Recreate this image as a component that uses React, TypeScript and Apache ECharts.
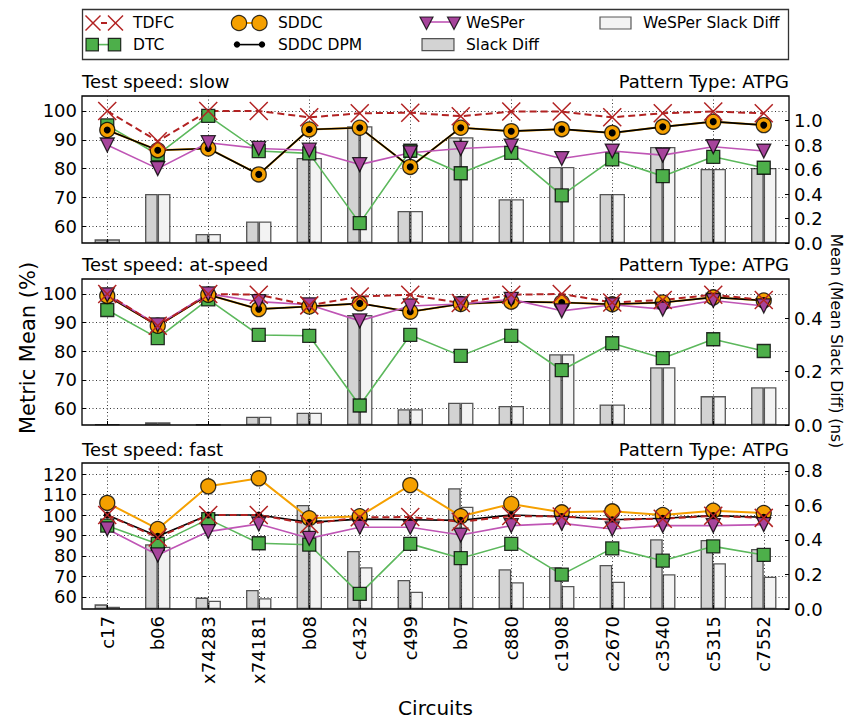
import React, { useEffect, useRef } from 'react';
import * as echarts from 'echarts';

const FONT = 'DejaVu Sans';

const categories = ['c17', 'b06', 'x74283', 'x74181', 'b08', 'c432', 'c499', 'b07', 'c880', 'c1908', 'c2670', 'c3540', 'c5315', 'c7552'];

// Test speed: slow
const tdfcSlow = [100, 89.5, 100, 100, 97.8, 99.2, 99.4, 98.2, 99.8, 99.8, 97.8, 99.2, 99.8, 99.2];
const dtcSlow = [95.0, 84.9, 98.3, 86.1, 85.3, 61.1, 86.2, 78.4, 85.5, 70.7, 83.2, 77.4, 84.1, 80.3];
const sddcSlow = [93.4, 86.4, 87.0, 78.0, 93.6, 94.2, 80.6, 94.2, 93.0, 93.7, 92.4, 94.5, 96.3, 95.1];
const sddcDpmSlow = [93.4, 86.4, 87.0, 78.0, 93.6, 94.2, 80.6, 94.2, 93.0, 93.7, 92.4, 94.5, 96.3, 95.1];
const wesperSlow = [88.2, 80.0, 89.0, 87.0, 86.4, 81.4, 85.5, 87.0, 87.8, 83.5, 86.1, 84.7, 87.6, 86.1];
const slackSlow = [0.03, 0.40, 0.074, 0.175, 0.694, 0.953, 0.262, 0.863, 0.358, 0.62, 0.40, 0.784, 0.604, 0.612];
const wesperSlackSlow = [0.03, 0.40, 0.074, 0.175, 0.694, 0.953, 0.262, 0.863, 0.358, 0.62, 0.40, 0.784, 0.604, 0.612];

// Test speed: at-speed
const tdfcAt = [100, 88.9, 100, 99.7, 96.0, 99.1, 99.7, 96.8, 99.7, 100, 97.0, 97.9, 99.7, 97.9];
const dtcAt = [94.4, 84.6, 98.1, 85.7, 85.4, 61.1, 85.7, 78.4, 85.4, 73.4, 82.8, 77.6, 84.2, 80.1];
const sddcAt = [99.3, 88.9, 99.7, 94.7, 95.6, 96.7, 93.8, 96.5, 97.3, 97.0, 96.4, 97.0, 98.8, 97.7];
const sddcDpmAt = [99.3, 88.9, 99.7, 94.7, 95.6, 96.7, 93.8, 96.5, 97.3, 97.0, 96.4, 97.0, 98.8, 97.7];
const wesperAt = [99.7, 89.2, 100, 97.3, 96.2, 90.6, 95.8, 96.5, 98.1, 94.1, 96.2, 94.7, 97.7, 95.8];
const slackAt = [0.003, 0.01, 0.002, 0.031, 0.046, 0.411, 0.059, 0.083, 0.071, 0.265, 0.077, 0.216, 0.108, 0.141];
const wesperSlackAt = [0.003, 0.01, 0.002, 0.031, 0.046, 0.411, 0.059, 0.083, 0.071, 0.265, 0.077, 0.216, 0.108, 0.141];

// Test speed: fast
const tdfcFast = [100, 89, 100, 100, 95.6, 98.9, 99, 96.7, 99.5, 99.3, 97.7, 98.2, 99.6, 98.6];
const dtcFast = [94.8, 85.9, 98.0, 86.2, 85.5, 61.5, 85.9, 78.9, 85.9, 70.9, 83.7, 77.7, 84.7, 80.5];
const sddcFast = [105.9, 93.2, 114.0, 117.9, 98.4, 99.4, 114.6, 99.4, 105.4, 101.3, 101.8, 100, 102.1, 101];
const sddcDpmFast = [100, 89.6, 100, 100, 96.4, 98, 97.7, 97.4, 100, 99.3, 97.7, 98.4, 99.7, 98.9];
const wesperFast = [93.2, 80.5, 91.9, 95.6, 88.6, 94.0, 94.0, 90.2, 94.8, 95.9, 93.2, 94.8, 94.8, 95.3];
const slackFast = [0.027, 0.375, 0.066, 0.11, 0.603, 0.336, 0.168, 0.70, 0.23, 0.242, 0.255, 0.404, 0.40, 0.348];
const wesperSlackFast = [0.013, 0.361, 0.048, 0.062, 0.516, 0.242, 0.10, 0.593, 0.155, 0.133, 0.158, 0.201, 0.265, 0.187];

const leftTicksA = [60, 70, 80, 90, 100];
const leftTicksB = [60, 70, 80, 90, 100, 110, 120];
const rightTicksA = [0, 0.2, 0.4, 0.6, 0.8, 1.0];
const rightTicksB = [0, 0.2, 0.4];
const rightTicksC = [0, 0.2, 0.4, 0.6, 0.8];

const panels = [
  { title: 'Test speed: slow', top: 96, height: 147, titleTop: 72, lMin: 54.2, lMax: 105.2, lSplit: 5, lTicks: leftTicksA, rMax: 1.2, rSplit: 6, rTicks: rightTicksA,
    tdfc: tdfcSlow, dtc: dtcSlow, sddc: sddcSlow, dpm: sddcDpmSlow, wesper: wesperSlow, slack: slackSlow, wslack: wesperSlackSlow },
  { title: 'Test speed: at-speed', top: 279, height: 146, titleTop: 255, lMin: 54.3, lMax: 105.2, lSplit: 5, lTicks: leftTicksA, rMax: 0.546, rSplit: 3, rTicks: rightTicksB,
    tdfc: tdfcAt, dtc: dtcAt, sddc: sddcAt, dpm: sddcDpmAt, wesper: wesperAt, slack: slackAt, wslack: wesperSlackAt },
  { title: 'Test speed: fast', top: 463, height: 146, titleTop: 440, lMin: 54.1, lMax: 125.4, lSplit: 7, lTicks: leftTicksB, rMax: 0.846, rSplit: 4, rTicks: rightTicksC,
    tdfc: tdfcFast, dtc: dtcFast, sddc: sddcFast, dpm: sddcDpmFast, wesper: wesperFast, slack: slackFast, wslack: wesperSlackFast },
];

const C_TDFC = '#b22222';
const C_DTC = '#4daf4a';
const C_DTC_LINE = '#5cb85c';
const C_SDDC = '#f5a000';
const C_WES = '#a6449b';
const C_WES_LINE = '#bf55b5';
const EDGE = 'rgba(0,0,0,0.8)';
const X_PATH = 'path://M0,0L10,10M10,0L0,10';

function buildOption() {
  const PL = 82, PW = 707;
  const grid = panels.map((p) => ({ left: PL, width: PW, top: p.top, height: p.height, show: true, borderColor: '#000', borderWidth: 1.3, backgroundColor: 'transparent' }));
  const dotted = { type: [1, 2.5], color: '#222', width: 0.9 };
  const xAxis = panels.map((p, i) => ({
    type: 'category', gridIndex: i, data: categories, boundaryGap: true,
    axisLine: { show: false },
    axisTick: { show: true, inside: true, alignWithLabel: true, length: 4, lineStyle: { color: '#000' } },
    axisLabel: i === 2 ? { show: true, rotate: 90, interval: 0, fontSize: 18, color: '#000', fontFamily: FONT, margin: 7 } : { show: false },
    splitLine: { show: true, alignWithLabel: true, lineStyle: dotted },
  }));
  const yAxis: any[] = [];
  panels.forEach((p, i) => {
    yAxis.push({
      type: 'value', gridIndex: i, position: 'left', min: p.lMin, max: p.lMax, splitNumber: p.lSplit,
      axisLine: { show: false },
      axisTick: { show: true, inside: true, length: 4, customValues: p.lTicks, lineStyle: { color: '#000' } },
      axisLabel: { customValues: p.lTicks, fontSize: 18, color: '#000', fontFamily: FONT, margin: 5 },
      splitLine: { show: true, lineStyle: dotted },
    });
    yAxis.push({
      type: 'value', gridIndex: i, position: 'right', min: 0, max: p.rMax, splitNumber: p.rSplit,
      axisLine: { show: false },
      axisTick: { show: true, inside: true, length: 4, customValues: p.rTicks, lineStyle: { color: '#000' } },
      axisLabel: { customValues: p.rTicks, fontSize: 18, color: '#000', fontFamily: FONT, margin: 5, formatter: (v: number) => v.toFixed(1) },
      splitLine: { show: false },
    });
  });

  const series: any[] = [];
  panels.forEach((p, i) => {
    const base = { xAxisIndex: i, silent: true, emphasis: { disabled: true } };
    series.push({ ...base, type: 'bar', name: 'Slack Diff', yAxisIndex: 2 * i + 1, data: p.slack, barWidth: 12.7, barGap: '0%',
      itemStyle: { color: '#d3d3d3', borderColor: 'rgba(0,0,0,0.65)', borderWidth: 1.3 }, z: 1 });
    series.push({ ...base, type: 'bar', name: 'WeSPer Slack Diff', yAxisIndex: 2 * i + 1, data: p.wslack, barWidth: 12.7, barGap: '0%',
      itemStyle: { color: '#f3f3f3', borderColor: 'rgba(0,0,0,0.65)', borderWidth: 1.3 }, z: 1 });
    series.push({ ...base, type: 'line', name: 'DTC', yAxisIndex: 2 * i, data: p.dtc, symbol: 'rect', symbolSize: 13,
      itemStyle: { color: C_DTC, borderColor: EDGE, borderWidth: 1.3 }, lineStyle: { color: C_DTC_LINE, width: 1.6 }, z: 3 });
    series.push({ ...base, type: 'line', name: 'SDDC', yAxisIndex: 2 * i, data: p.sddc, symbol: 'circle', symbolSize: 15,
      itemStyle: { color: C_SDDC, borderColor: EDGE, borderWidth: 1.3 }, lineStyle: { color: C_SDDC, width: 2 }, z: 3 });
    series.push({ ...base, type: 'line', name: 'SDDC DPM', yAxisIndex: 2 * i, data: p.dpm, symbol: 'circle', symbolSize: 7,
      itemStyle: { color: '#000' }, lineStyle: { color: '#000', width: 1.6 }, z: 3 });
    series.push({ ...base, type: 'line', name: 'WeSPer', yAxisIndex: 2 * i, data: p.wesper, symbol: 'triangle', symbolRotate: 180, symbolSize: 14,
      itemStyle: { color: C_WES, borderColor: EDGE, borderWidth: 1.3 }, lineStyle: { color: C_WES_LINE, width: 1.6 }, z: 3 });
    series.push({ ...base, type: 'line', name: 'TDFC', yAxisIndex: 2 * i, data: p.tdfc, symbol: X_PATH, symbolSize: 18,
      itemStyle: { color: 'none', borderColor: C_TDFC, borderWidth: 1.5 }, lineStyle: { color: C_TDFC, width: 2, type: [7, 4] }, z: 3 });
  });

  const tStyle = { fontSize: 18, fontWeight: 'normal', color: '#000', fontFamily: FONT };
  const title: any[] = [];
  panels.forEach((p) => {
    title.push({ text: p.title, left: PL, top: p.titleTop, padding: 0, textStyle: tStyle });
    title.push({ text: 'Pattern Type: ATPG', right: 858 - PL - PW, top: p.titleTop, padding: 0, textStyle: tStyle });
  });

  const legText = { fontSize: 15.5, color: '#000', fontFamily: FONT, lineHeight: 18 };
  const legBase = { orient: 'vertical', top: 14, itemWidth: 43, itemHeight: 18, itemGap: 3.6, padding: 0, selectedMode: false, textStyle: legText };
  const legend = [
    { ...legBase, left: 85, data: [{ name: 'TDFC', icon: 'none' }, { name: 'DTC', icon: 'none' }] },
    { ...legBase, left: 230, data: [{ name: 'SDDC', icon: 'none' }, { name: 'SDDC DPM', icon: 'none' }] },
    { ...legBase, left: 418, data: [{ name: 'WeSPer', icon: 'none' }, { name: 'Slack Diff', icon: 'none' }] },
    { ...legBase, left: 595, data: [{ name: 'WeSPer Slack Diff', icon: 'none' }] },
  ];

  const r1 = 23, r2 = 44.6;
  const xMark = (cx: number, cy: number, s: number) => [
    { type: 'line', shape: { x1: cx - s / 2, y1: cy - s / 2, x2: cx + s / 2, y2: cy + s / 2 }, style: { stroke: C_TDFC, lineWidth: 1.5 } },
    { type: 'line', shape: { x1: cx - s / 2, y1: cy + s / 2, x2: cx + s / 2, y2: cy - s / 2 }, style: { stroke: C_TDFC, lineWidth: 1.5 } },
  ];
  const tri = (cx: number, cy: number) => ({ type: 'polygon', shape: { points: [[cx - 6.5, cy - 6], [cx + 6.5, cy - 6], [cx, cy + 6.5]] }, style: { fill: C_WES, stroke: EDGE, lineWidth: 1.2 } });
  const elements: any[] = [
    { type: 'rect', shape: { x: 82.5, y: 9.5, width: 706, height: 50 }, style: { fill: '#fff', stroke: '#333', lineWidth: 1.3 }, z: -1 },
    // TDFC
    { type: 'line', shape: { x1: 101, y1: r1, x2: 107, y2: r1 }, style: { stroke: C_TDFC, lineWidth: 2 } },
    ...xMark(93, r1, 15), ...xMark(115.5, r1, 15),
    // DTC
    { type: 'line', shape: { x1: 92, y1: r2, x2: 114.5, y2: r2 }, style: { stroke: C_DTC_LINE, lineWidth: 1.6 } },
    { type: 'rect', shape: { x: 86, y: r2 - 6.2, width: 12.4, height: 12.4 }, style: { fill: C_DTC, stroke: EDGE, lineWidth: 1.2 } },
    { type: 'rect', shape: { x: 108.3, y: r2 - 6.2, width: 12.4, height: 12.4 }, style: { fill: C_DTC, stroke: EDGE, lineWidth: 1.2 } },
    // SDDC
    { type: 'line', shape: { x1: 239, y1: r1, x2: 259.5, y2: r1 }, style: { stroke: C_SDDC, lineWidth: 2 } },
    { type: 'circle', shape: { cx: 239, cy: r1, r: 7.6 }, style: { fill: C_SDDC, stroke: EDGE, lineWidth: 1.2 } },
    { type: 'circle', shape: { cx: 259.5, cy: r1, r: 7.6 }, style: { fill: C_SDDC, stroke: EDGE, lineWidth: 1.2 } },
    // SDDC DPM
    { type: 'line', shape: { x1: 237, y1: r2, x2: 262, y2: r2 }, style: { stroke: '#000', lineWidth: 1.6 } },
    { type: 'circle', shape: { cx: 237, cy: r2, r: 3.2 }, style: { fill: '#000' } },
    { type: 'circle', shape: { cx: 262, cy: r2, r: 3.2 }, style: { fill: '#000' } },
    // WeSPer
    { type: 'line', shape: { x1: 426.5, y1: r1 - 1, x2: 454, y2: r1 - 1 }, style: { stroke: C_WES_LINE, lineWidth: 1.6 } },
    tri(426.5, r1), tri(454, r1),
    // Slack Diff
    { type: 'rect', shape: { x: 422, y: r2 - 6, width: 32, height: 12 }, style: { fill: '#d3d3d3', stroke: 'rgba(0,0,0,0.65)', lineWidth: 1.2 } },
    // WeSPer Slack Diff
    { type: 'rect', shape: { x: 600, y: r1 - 6, width: 31, height: 12 }, style: { fill: '#f3f3f3', stroke: 'rgba(0,0,0,0.65)', lineWidth: 1.2 } },
    // axis names
    { type: 'text', x: 28, y: 348, rotation: Math.PI / 2, style: { text: 'Metric Mean (%)', font: `21px "${FONT}"`, fill: '#000', align: 'center', verticalAlign: 'middle' } },
    { type: 'text', x: 836, y: 341, rotation: -Math.PI / 2, style: { text: 'Mean (Mean Slack Diff) (ns)', font: `15.5px "${FONT}"`, fill: '#000', align: 'center', verticalAlign: 'middle' } },
    { type: 'text', x: 435.5, y: 708, style: { text: 'Circuits', font: `20px "${FONT}"`, fill: '#000', align: 'center', verticalAlign: 'middle' } },
  ];

  return {
    animation: false,
    backgroundColor: '#fff',
    textStyle: { fontFamily: FONT },
    title, legend, grid, xAxis, yAxis, series,
    graphic: { elements },
  };
}

export default function App() {
  const ref = useRef<HTMLDivElement>(null);
  useEffect(() => {
    const chart = echarts.init(ref.current!, null, { renderer: 'svg' });
    chart.setOption(buildOption() as any);
    return () => chart.dispose();
  }, []);
  return <div ref={ref} style={{ position: 'absolute', left: 0, top: 0, width: 858, height: 721 }} />;
}
